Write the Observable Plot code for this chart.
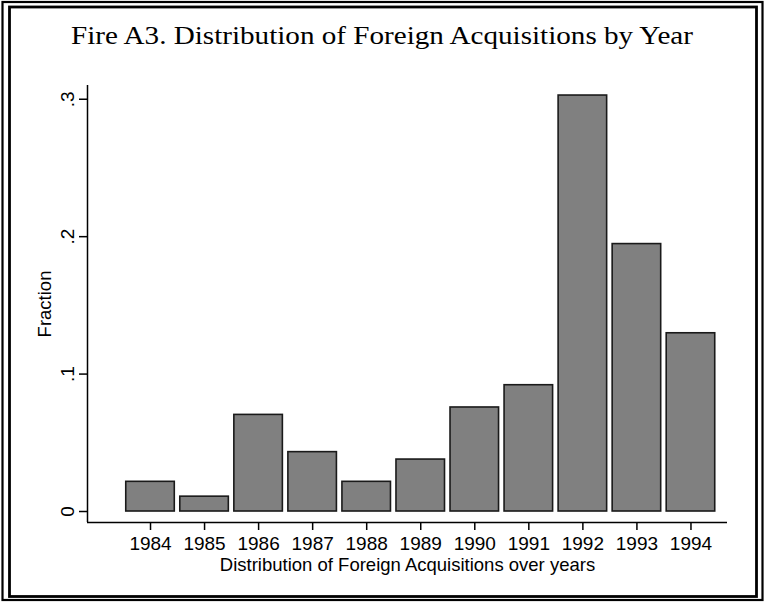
<!DOCTYPE html>
<html>
<head>
<meta charset="utf-8">
<script src="https://cdn.jsdelivr.net/npm/d3@7"></script>
<script src="https://cdn.jsdelivr.net/npm/@observablehq/plot@0.6"></script>
<style>
  html, body { margin: 0; padding: 0; background: #fff; }
  svg { display: block; }
</style>
</head>
<body>
<div id="chart"></div>
<script>
// ---- data ----
const years = [1984, 1985, 1986, 1987, 1988, 1989, 1990, 1991, 1992, 1993, 1994];
const fractions = [0.0216, 0.0108, 0.0703, 0.0432, 0.0216, 0.0378, 0.0757, 0.0919, 0.3027, 0.1946, 0.1297];
const xTickLabels = ["1984", "1985", "1986", "1987", "1988", "1989", "1990", "1991", "1992", "1993", "1994"];
const yTicks = [0, 0.1, 0.2, 0.3];
const yTickLabels = ["0", ".1", ".2", ".3"];
const titleText = "Fire A3. Distribution of Foreign Acquisitions by Year";
const xLabel = "Distribution of Foreign Acquisitions over years";
const yLabel = "Fraction";

const data = years.map((y, i) => ({year: y, fraction: fractions[i]}));
const xDomain = [1982.834, 1994.676];
const yDomain = [-0.008, 0.31];
const halfBar = 0.449;
const sans = "'Liberation Sans', Arial, Helvetica, sans-serif";

const svg = Plot.plot({
  width: 765,
  height: 602,
  marginLeft: 87,
  marginRight: 38,
  marginTop: 85,
  marginBottom: 80,
  style: {fontFamily: sans, background: "#fff", color: "#000"},
  x: {domain: xDomain},
  y: {domain: yDomain},
  marks: [
    Plot.rectY(data, {
      x1: d => d.year - halfBar,
      x2: d => d.year + halfBar,
      y1: 0,
      y2: "fraction",
      fill: "#808080",
      stroke: "#1a1a1a",
      strokeWidth: 1.6
    }),
    Plot.axisX({
      ticks: years,
      tickSize: 8,
      tickPadding: 6,
      tickFormat: (d) => xTickLabels[years.indexOf(d)],
      fontSize: 19,
      label: null,
      strokeWidth: 1.5
    }),
    Plot.axisY({
      ticks: yTicks,
      tickSize: 8,
      tickFormat: () => "",
      label: null,
      strokeWidth: 1.5
    }),
    Plot.text(yTicks, {
      frameAnchor: "left",
      y: d => d,
      text: (d, i) => yTickLabels[i],
      rotate: -90,
      dx: -20,
      fontSize: 19,
      textAnchor: "middle",
      lineAnchor: "middle",
      fill: "#000"
    }),
    Plot.text([yLabel], {
      frameAnchor: "left",
      dx: -42,
      rotate: -90,
      fontSize: 18.5,
      textAnchor: "middle",
      lineAnchor: "middle",
      fill: "#000"
    }),
    Plot.text([xLabel], {
      frameAnchor: "bottom",
      dy: 43,
      fontSize: 18.5,
      textAnchor: "middle",
      lineAnchor: "middle",
      fill: "#000"
    }),
    Plot.ruleX([xDomain[0]], {stroke: "#000", strokeWidth: 1.5}),
    Plot.ruleY([yDomain[0]], {stroke: "#000", strokeWidth: 1.5})
  ]
});

const s = d3.select(svg);
// title
s.append("text")
  .attr("x", 382)
  .attr("y", 44)
  .attr("text-anchor", "middle")
  .attr("font-family", "'Liberation Serif', 'Times New Roman', serif")
  .attr("font-size", 26)
  .attr("textLength", 622)
  .attr("lengthAdjust", "spacingAndGlyphs")
  .attr("fill", "#000")
  .text(titleText);
// double frame around the graph
s.append("rect")
  .attr("x", 2.5).attr("y", 2).attr("width", 760).attr("height", 598)
  .attr("fill", "none").attr("stroke", "#000").attr("stroke-width", 2.2);
s.append("rect")
  .attr("x", 9.5).attr("y", 7).attr("width", 747).attr("height", 589.5)
  .attr("fill", "none").attr("stroke", "#000").attr("stroke-width", 2.8);

document.getElementById("chart").appendChild(svg);
</script>
</body>
</html>
